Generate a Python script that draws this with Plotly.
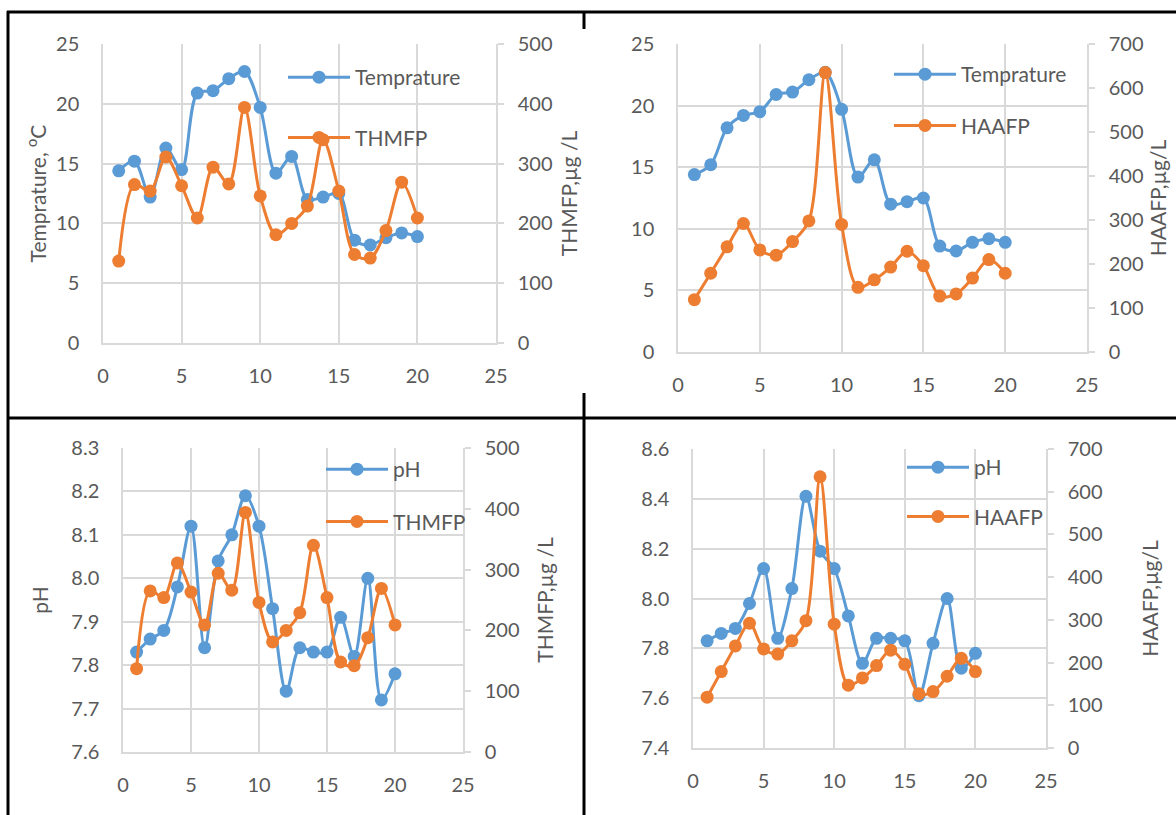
import plotly.graph_objects as go

W, H = 1176, 815

# ---------------- data ----------------
sample = list(range(1, 21))
temp_a = [14.4, 15.2, 12.2, 16.3, 14.5, 20.9, 21.1, 22.1, 22.7, 19.7,
          14.2, 15.6, 12.0, 12.2, 12.5, 8.6, 8.2, 8.8, 9.2, 8.9]
thmfp = [137, 265, 254, 311, 263, 209, 294, 266, 394, 246,
         181, 200, 229, 340, 254, 148, 142, 188, 269, 209]
temp_b = [14.4, 15.2, 18.2, 19.2, 19.5, 20.9, 21.1, 22.1, 22.7, 19.7,
          14.2, 15.6, 12.0, 12.2, 12.5, 8.6, 8.2, 8.9, 9.2, 8.9]
haafp = [119, 179, 239, 292, 232, 220, 251, 298, 635, 290,
         147, 164, 193, 229, 196, 127, 132, 168, 210, 179]
ph_a = [7.83, 7.86, 7.88, 7.98, 8.12, 7.84, 8.04, 8.10, 8.19, 8.12,
        7.93, 7.74, 7.84, 7.83, 7.83, 7.91, 7.82, 8.00, 7.72, 7.78]
ph_b = [7.83, 7.86, 7.88, 7.98, 8.12, 7.84, 8.04, 8.41, 8.19, 8.12,
        7.93, 7.74, 7.84, 7.84, 7.83, 7.61, 7.82, 8.00, 7.72, 7.78]

BLUE = "#5B9BD5"
ORANGE = "#ED7D31"
GRID = "#D9D9D9"
TXT = "#595959"
FONT = "Lato"
FS_TICK = 20
FS_TITLE = 21
FS_LEG = 21


def px_x(p):
    return p / W


def px_y(p):
    return 1 - p / H


panels = [
    dict(xd=(103, 496), yd=(44, 343), lrange=[0, 25], ldtick=5, lfmt="d",
         ltitle="Temprature, <sup>o</sup>C", lstand=4,
         rrange=[0, 500], rdtick=100, rtitle="THMFP,µg /L", rstand=11,
         s1=("Temprature", temp_a), s2=("THMFP", thmfp),
         leg=(283, 57), gap=30),
    dict(xd=(678, 1087), yd=(44, 352), lrange=[0, 25], ldtick=5, lfmt="d",
         ltitle="", lstand=10,
         rrange=[0, 700], rdtick=100, rtitle="HAAFP,µg/L", rstand=9,
         s1=("Temprature", temp_b), s2=("HAAFP", haafp),
         leg=(889, 54), gap=21),
    dict(xd=(123, 463), yd=(448, 752), lrange=[7.6, 8.3], ldtick=0.1, lfmt=".1f",
         ltitle="pH", lstand=17,
         rrange=[0, 500], rdtick=100, rtitle="THMFP,µg /L", rstand=20,
         s1=("pH", ph_a), s2=("THMFP", thmfp),
         leg=(321, 449), gap=22),
    dict(xd=(693, 1046), yd=(449, 748), lrange=[7.4, 8.6], ldtick=0.2, lfmt=".1f",
         ltitle="", lstand=10,
         rrange=[0, 700], rdtick=100, rtitle="HAAFP,µg/L", rstand=42,
         s1=("pH", ph_b), s2=("HAAFP", haafp),
         leg=(902, 447), gap=19),
]

fig = go.Figure()
layout = dict()

for i, p in enumerate(panels):
    n = i + 1
    xa = "x" if n == 1 else f"x{n}"
    yl_n = 2 * n - 1
    yr_n = 2 * n
    yl = "y" if yl_n == 1 else f"y{yl_n}"
    yr = f"y{yr_n}"
    legname = "legend" if n == 1 else f"legend{n}"

    name1, vals1 = p["s1"]
    name2, vals2 = p["s2"]
    fig.add_trace(go.Scatter(
        x=sample, y=vals1, name=name1, mode="lines+markers",
        line=dict(color=BLUE, width=3, shape="spline", smoothing=0.9),
        marker=dict(color=BLUE, size=13),
        xaxis=xa, yaxis=yl, legend=legname, legendgroup=f"a{n}"))
    fig.add_trace(go.Scatter(
        x=sample, y=vals2, name=name2, mode="lines+markers",
        line=dict(color=ORANGE, width=3, shape="spline", smoothing=0.9),
        marker=dict(color=ORANGE, size=13),
        xaxis=xa, yaxis=yr, legend=legname, legendgroup=f"b{n}"))

    xkey = "xaxis" if n == 1 else f"xaxis{n}"
    ylkey = "yaxis" if yl_n == 1 else f"yaxis{yl_n}"
    yrkey = f"yaxis{yr_n}"

    layout[xkey] = dict(
        domain=[px_x(p["xd"][0]), px_x(p["xd"][1])], anchor=yl,
        range=[0, 25], dtick=5, tick0=0, showgrid=True, gridcolor=GRID,
        gridwidth=1.5, showline=True, linecolor=GRID, linewidth=1.5,
        zeroline=False, ticks="", ticklabelstandoff=14,
        tickfont=dict(family=FONT, size=FS_TICK, color=TXT), automargin=False)
    yl_dict = dict(
        domain=[px_y(p["yd"][1]), px_y(p["yd"][0])], anchor=xa,
        range=p["lrange"], dtick=p["ldtick"], tick0=p["lrange"][0],
        tickformat=p["lfmt"], showgrid=True, gridcolor=GRID, gridwidth=1.5,
        showline=True, linecolor=GRID, linewidth=1.5, zeroline=False,
        ticks="", ticklabelstandoff=18,
        tickfont=dict(family=FONT, size=FS_TICK, color=TXT), automargin=False)
    if p["ltitle"]:
        yl_dict["title"] = dict(text=p["ltitle"],
                                font=dict(family=FONT, size=FS_TITLE, color=TXT),
                                standoff=p["lstand"])
    layout[ylkey] = yl_dict
    layout[yrkey] = dict(
        overlaying=yl, side="right", anchor=xa,
        range=p["rrange"], dtick=p["rdtick"], tick0=0, showgrid=False,
        showline=True, linecolor=GRID, linewidth=1.5, zeroline=False,
        ticks="outside", ticklen=6, tickcolor=GRID, tickwidth=1.5,
        ticklabelstandoff=10,
        tickfont=dict(family=FONT, size=FS_TICK, color=TXT), automargin=False,
        title=dict(text=p["rtitle"], font=dict(family=FONT, size=FS_TITLE, color=TXT),
                   standoff=p["rstand"]))
    layout[legname] = dict(
        x=px_x(p["leg"][0]), y=px_y(p["leg"][1]), xanchor="left", yanchor="top",
        bgcolor="rgba(0,0,0,0)", borderwidth=0, tracegroupgap=p["gap"],
        itemwidth=62, font=dict(family=FONT, size=FS_LEG, color=TXT),
        traceorder="grouped")

# table-like border lines
BK = dict(color="black", width=3)
shapes = [
    dict(type="line", xref="paper", yref="paper", x0=px_x(7), x1=px_x(1176),
         y0=px_y(12), y1=px_y(12), line=BK),
    dict(type="line", xref="paper", yref="paper", x0=px_x(8), x1=px_x(8),
         y0=px_y(11), y1=px_y(815), line=BK),
    dict(type="line", xref="paper", yref="paper", x0=px_x(7), x1=px_x(1176),
         y0=px_y(418), y1=px_y(418), line=BK),
    dict(type="line", xref="paper", yref="paper", x0=px_x(584), x1=px_x(584),
         y0=px_y(12), y1=px_y(29), line=BK),
    dict(type="line", xref="paper", yref="paper", x0=px_x(584), x1=px_x(584),
         y0=px_y(393), y1=px_y(815), line=BK),
]

fig.update_layout(
    width=W, height=H, margin=dict(l=0, r=0, t=0, b=0),
    paper_bgcolor="white", plot_bgcolor="white", shapes=shapes,
    font=dict(family=FONT, size=FS_TICK, color=TXT), **layout)

fig.write_html("out.html", config={"displayModeBar": False},
               post_script="document.body.style.margin='0';")
